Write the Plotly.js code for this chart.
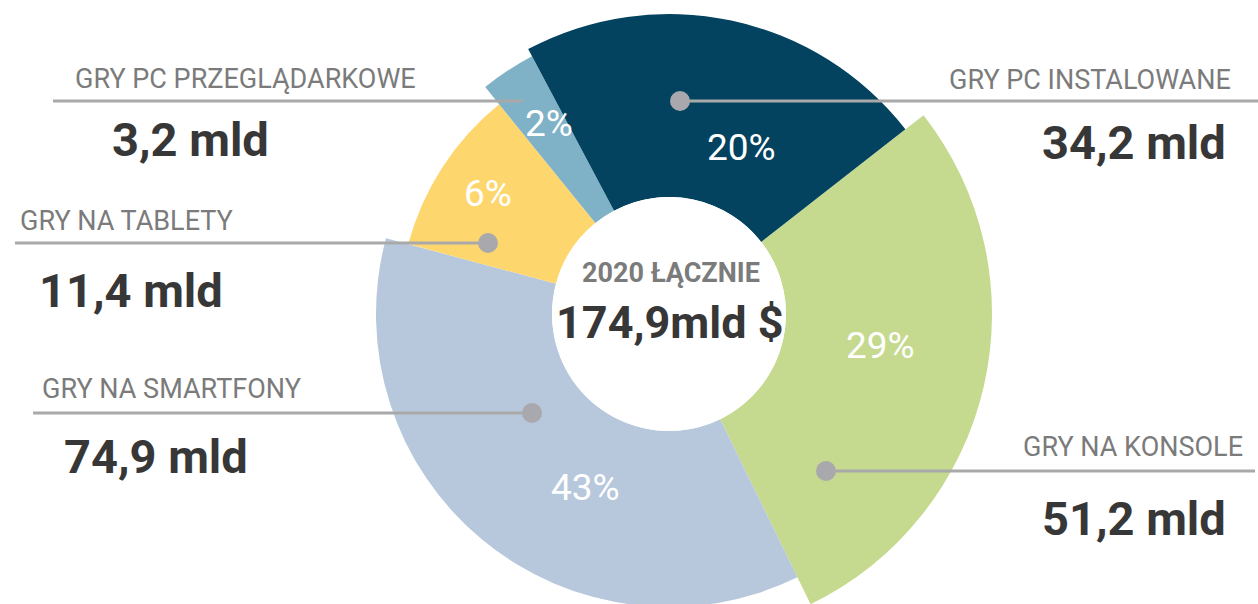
<!DOCTYPE html>
<html>
<head>
<meta charset="utf-8">
<script src="https://cdn.plot.ly/plotly-3.0.1.min.js"></script>
<style>
  html, body { margin: 0; padding: 0; overflow: hidden; background: #fff; }
  #chart { position: absolute; left: 0; top: -40px; width: 1258px; height: 700px; }
</style>
</head>
<body>
<div id="chart"></div>
<script>
// data, in clockwise order starting from the konsole slice
var categories = ['GRY NA KONSOLE', 'GRY NA SMARTFONY', 'GRY NA TABLETY', 'GRY PC PRZEGLĄDARKOWE', 'GRY PC INSTALOWANE'];
var revenue = [51.2, 74.9, 11.4, 3.2, 34.2];   // mld $
var sharePct = [29, 43, 6, 2, 20];
var sweepDeg = [102, 131, 36, 11, 80];          // angular size of each slice as drawn
var outerR = [323, 293, 270, 292, 300];         // outer radius of each slice as drawn
var colors = ['#c5d98f', '#b8c8dc', '#fdd76e', '#7fb1c7', '#03435f'];

var W = 1258, H = 700, SHIFT = 40;
var CX = 669, CY = 314, R = 330, HOLE = 117;
var START = 52;

function px(x) { return x / W; }
function py(y) { return (H - SHIFT - y) / H; }

var thetas = [];
var acc = START;
for (var i = 0; i < sweepDeg.length; i++) {
  thetas.push(acc + sweepDeg[i] / 2);
  acc += sweepDeg[i];
}

var total = revenue.reduce(function (a, b) { return a + b; }, 0);
function fmt(v) { return v.toFixed(1).replace('.', ','); }

var slices = {
  type: 'barpolar',
  r: outerR.map(function (v) { return v - HOLE; }),
  theta: thetas,
  width: sweepDeg,
  marker: { color: colors, line: { width: 0 } },
  hoverinfo: 'skip',
  showlegend: false
};

var gray = '#7b7b7b', dark = '#373737', lineCol = '#a9a9a9';
var labelFont = { family: 'Roboto, "Liberation Sans Narrow", sans-serif', size: 27, color: gray };
var valueFont = { family: 'Roboto, sans-serif', size: 47, color: dark, weight: 'bold' };
var pctFont = { family: 'Roboto, sans-serif', size: 37, color: '#ffffff' };

// label blocks: [category index, label center x, label y, value center x, value y]
var blocks = [
  [3, 245, 79, 191, 140],
  [4, 1090, 80, 1134, 142],
  [2, 126, 221, 131, 290],
  [1, 171, 389, 156, 456],
  [0, 1133, 447, 1134, 518]
];
var pctPos = [[880, 345], [585, 487], [488, 193], [549, 123], [741, 147]];

var annotations = [];
blocks.forEach(function (b) {
  annotations.push({ xref: 'paper', yref: 'paper', x: px(b[1]), y: py(b[2]), text: categories[b[0]],
    showarrow: false, xanchor: 'center', yanchor: 'middle', font: labelFont });
  annotations.push({ xref: 'paper', yref: 'paper', x: px(b[3]), y: py(b[4]), text: fmt(revenue[b[0]]) + ' mld',
    showarrow: false, xanchor: 'center', yanchor: 'middle', font: valueFont });
});
sharePct.forEach(function (p, i) {
  annotations.push({ xref: 'paper', yref: 'paper', x: px(pctPos[i][0]), y: py(pctPos[i][1]), text: p + '%',
    showarrow: false, xanchor: 'center', yanchor: 'middle', font: pctFont });
});
annotations.push({ xref: 'paper', yref: 'paper', x: px(671), y: py(273), text: '2020 ŁĄCZNIE',
  showarrow: false, xanchor: 'center', yanchor: 'middle', font: { family: 'Roboto, sans-serif', size: 27, color: gray, weight: 'bold' } });
annotations.push({ xref: 'paper', yref: 'paper', x: px(670), y: py(322), text: fmt(total) + 'mld $',
  showarrow: false, xanchor: 'center', yanchor: 'middle', font: { family: 'Roboto, sans-serif', size: 45, color: dark, weight: 'bold' } });

// leader lines and dots
var leaders = [[53, 523, 101], [680, 1258, 101], [15, 488, 243], [33, 532, 413], [826, 1255, 471]];
var dots = [[680, 101], [488, 243], [532, 413], [826, 471]];
var shapes = [];
leaders.forEach(function (l) {
  shapes.push({ type: 'line', xref: 'paper', yref: 'paper', x0: px(l[0]), x1: px(l[1]), y0: py(l[2]), y1: py(l[2]),
    line: { color: lineCol, width: 3 } });
});
dots.forEach(function (d) {
  shapes.push({ type: 'circle', xref: 'paper', yref: 'paper', x0: px(d[0] - 10), x1: px(d[0] + 10),
    y0: py(d[1] + 10), y1: py(d[1] - 10), fillcolor: '#a9a9ad', line: { width: 0 } });
});

var layout = {
  width: W,
  height: H,
  margin: { l: 0, r: 0, t: 0, b: 0 },
  paper_bgcolor: '#ffffff',
  showlegend: false,
  polar: {
    domain: { x: [px(CX - R), px(CX + R)], y: [py(CY + R), py(CY - R)] },
    hole: HOLE / R,
    bargap: 0,
    bgcolor: 'rgba(0,0,0,0)',
    radialaxis: { range: [0, R - HOLE], visible: false },
    angularaxis: { direction: 'clockwise', rotation: 90, visible: false }
  },
  annotations: annotations,
  shapes: shapes
};

Plotly.newPlot('chart', [slices], layout, { staticPlot: true });
</script>
</body>
</html>
